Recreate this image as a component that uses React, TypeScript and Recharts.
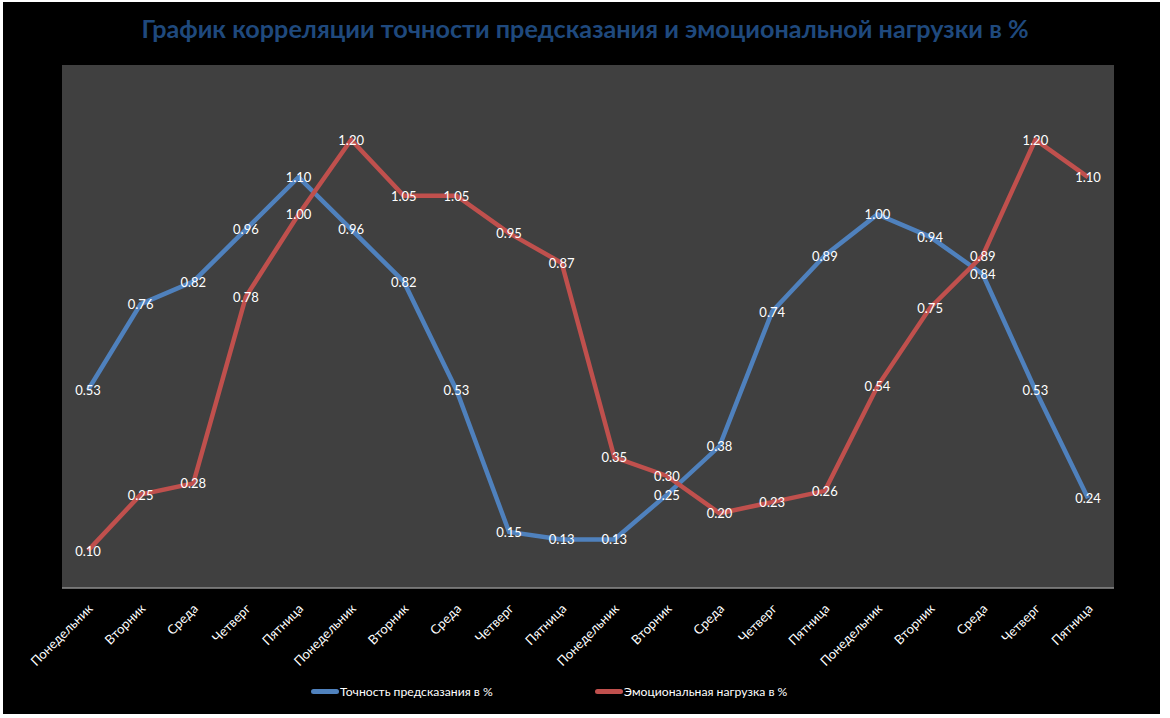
import React from "react";
import { CartesianGrid, LabelList, Legend, Line, LineChart, XAxis, YAxis } from "recharts";

const DAYS = [
  "Понедельник", "Вторник", "Среда", "Четверг", "Пятница",
  "Понедельник", "Вторник", "Среда", "Четверг", "Пятница",
  "Понедельник", "Вторник", "Среда", "Четверг", "Пятница",
  "Понедельник", "Вторник", "Среда", "Четверг", "Пятница",
];
const ACCURACY = [0.53, 0.76, 0.82, 0.96, 1.1, 0.96, 0.82, 0.53, 0.15, 0.13, 0.13, 0.25, 0.38, 0.74, 0.89, 1.0, 0.94, 0.84, 0.53, 0.24];
const LOAD = [0.1, 0.25, 0.28, 0.78, 1.0, 1.2, 1.05, 1.05, 0.95, 0.87, 0.35, 0.3, 0.2, 0.23, 0.26, 0.54, 0.75, 0.89, 1.2, 1.1];

const SERIES = [
  { key: "accuracy", name: "Точность предсказания в %", color: "#4f81bd" },
  { key: "load", name: "Эмоциональная нагрузка в %", color: "#c0504d" },
];

const data = DAYS.map((day, i) => ({ idx: i, day, accuracy: ACCURACY[i], load: LOAD[i] }));

const FONT = "Lato, 'Open Sans', sans-serif";

function DayTick(props: any) {
  const { x, y, payload } = props;
  const tx = x + 2;
  const ty = y + 10;
  return (
    <text
      x={tx}
      y={ty}
      transform={`rotate(-45 ${tx} ${ty})`}
      textAnchor="end"
      dominantBaseline="central"
      fill="#ffffff"
      fontSize={13}
      fontFamily={FONT}
    >
      {DAYS[payload.value]}
    </text>
  );
}

function PointLabel(props: any) {
  const { x, y, value } = props;
  return (
    <text x={x} y={y} textAnchor="middle" dominantBaseline="central" fill="#ffffff" fontSize={13} fontFamily={FONT}>
      {Number(value).toFixed(2)}
    </text>
  );
}

function LegendBox() {
  return (
    <div style={{ display: "flex", paddingLeft: 311, gap: 102, fontFamily: FONT, fontSize: 12.2, color: "#ffffff" }}>
      {SERIES.map((s) => (
        <div key={s.key} style={{ display: "flex", alignItems: "center" }}>
          <span style={{ display: "inline-block", width: 28, height: 5, borderRadius: 3, background: s.color, marginRight: 1 }} />
          <span>{s.name}</span>
        </div>
      ))}
    </div>
  );
}

export default function App() {
  return (
    <div style={{ position: "absolute", left: 0, top: 0, width: 1170, height: 718, background: "#ffffff", overflow: "hidden" }}>
      <div style={{ position: "absolute", left: 3, top: 2, width: 1157, height: 712, background: "#000000" }} />
      <div
        style={{
          position: "absolute",
          left: 0,
          top: 13,
          width: 1170,
          textAlign: "center",
          fontFamily: FONT,
          fontWeight: 700,
          fontSize: 25.2,
          color: "#1f497d",
        }}
      >
        График корреляции точности предсказания и эмоциональной нагрузки в %
      </div>
      <div style={{ position: "absolute", left: 0, top: 0 }}>
        <LineChart width={1170} height={718} data={data} margin={{ top: 65, right: 56, left: 62, bottom: 0 }}>
          <CartesianGrid horizontal={false} vertical={false} fill="#404040" />
          <XAxis
            dataKey="idx"
            type="category"
            height={90}
            interval={0}
            padding={{ left: 26, right: 26 }}
            tickLine={false}
            axisLine={{ stroke: "#8c8c8c", strokeWidth: 1.5 }}
            tick={<DayTick />}
          />
          <YAxis hide domain={[0, 1.4]} />
          <Legend
            verticalAlign="bottom"
            height={40}
            content={<LegendBox />}
            wrapperStyle={{ left: 0, width: 1170, bottom: -6 }}
          />
          {SERIES.map((s) => (
            <Line
              key={s.key}
              dataKey={s.key}
              name={s.name}
              stroke={s.color}
              strokeWidth={4.5}
              dot={false}
              isAnimationActive={false}
            >
              <LabelList dataKey={s.key} content={<PointLabel />} />
            </Line>
          ))}
        </LineChart>
      </div>
    </div>
  );
}
